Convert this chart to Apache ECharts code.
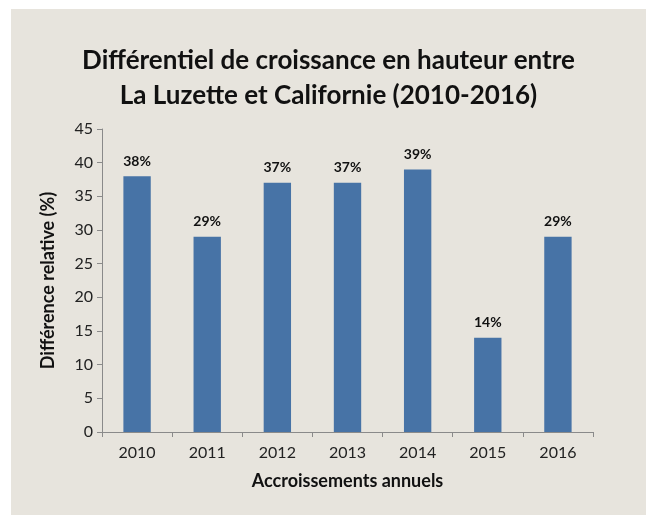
<!DOCTYPE html>
<html>
<head>
<meta charset="utf-8">
<script src="https://cdn.jsdelivr.net/npm/echarts@6/dist/echarts.min.js"></script>
<style>
  html, body { margin: 0; padding: 0; background: #ffffff; }
  #main { position: absolute; left: 11px; top: 9px; width: 635px; height: 506px; }
</style>
</head>
<body>
<div id="main"></div>
<script>
var years = ['2010', '2011', '2012', '2013', '2014', '2015', '2016']
var diffValues = [38, 29, 37, 37, 39, 14, 29]
var titleLines = ['Différentiel de croissance en hauteur entre', 'La Luzette et Californie (2010-2016)']

var myChart = echarts.init(document.getElementById('main'))

var option = {
  animation: false,
  backgroundColor: '#e7e4dd',
  textStyle: { fontFamily: 'Lato' },
  title: {
    text: titleLines.join('\n'),
    left: 'center',
    top: 29,
    textStyle: { fontFamily: 'Lato', fontSize: 26, fontWeight: 'bold', color: '#111', lineHeight: 35 }
  },
  grid: { left: 91, right: 53, top: 120, bottom: 83 },
  xAxis: {
    type: 'category',
    data: years,
    name: 'Accroissements annuels',
    nameLocation: 'middle',
    nameGap: 40,
    nameTextStyle: { fontFamily: 'Lato', fontSize: 18, fontWeight: 'bold', color: '#111' },
    axisLine: { lineStyle: { color: '#8a8a8a' } },
    axisTick: { show: true, length: 5, lineStyle: { color: '#8a8a8a' } },
    axisLabel: { fontSize: 16, color: '#222', margin: 13 }
  },
  yAxis: {
    type: 'value',
    min: 0,
    max: 45,
    interval: 5,
    name: 'Différence relative (%)',
    nameLocation: 'middle',
    nameGap: 45,
    nameTextStyle: { fontFamily: 'Lato', fontSize: 18, fontWeight: 'bold', color: '#111' },
    axisLine: { show: true, lineStyle: { color: '#8a8a8a' } },
    axisTick: { show: true, length: 5, lineStyle: { color: '#8a8a8a' } },
    splitLine: { show: false },
    axisLabel: { fontSize: 16, color: '#222', margin: 9 }
  },
  series: [
    {
      type: 'bar',
      data: diffValues,
      barWidth: '39%',
      itemStyle: { color: '#4773a6' },
      label: {
        show: true,
        position: 'top',
        distance: 8,
        formatter: '{c}%',
        fontFamily: 'Lato',
        fontSize: 14,
        fontWeight: 'bold',
        color: '#111'
      }
    }
  ]
}

myChart.setOption(option)
</script>
</body>
</html>
